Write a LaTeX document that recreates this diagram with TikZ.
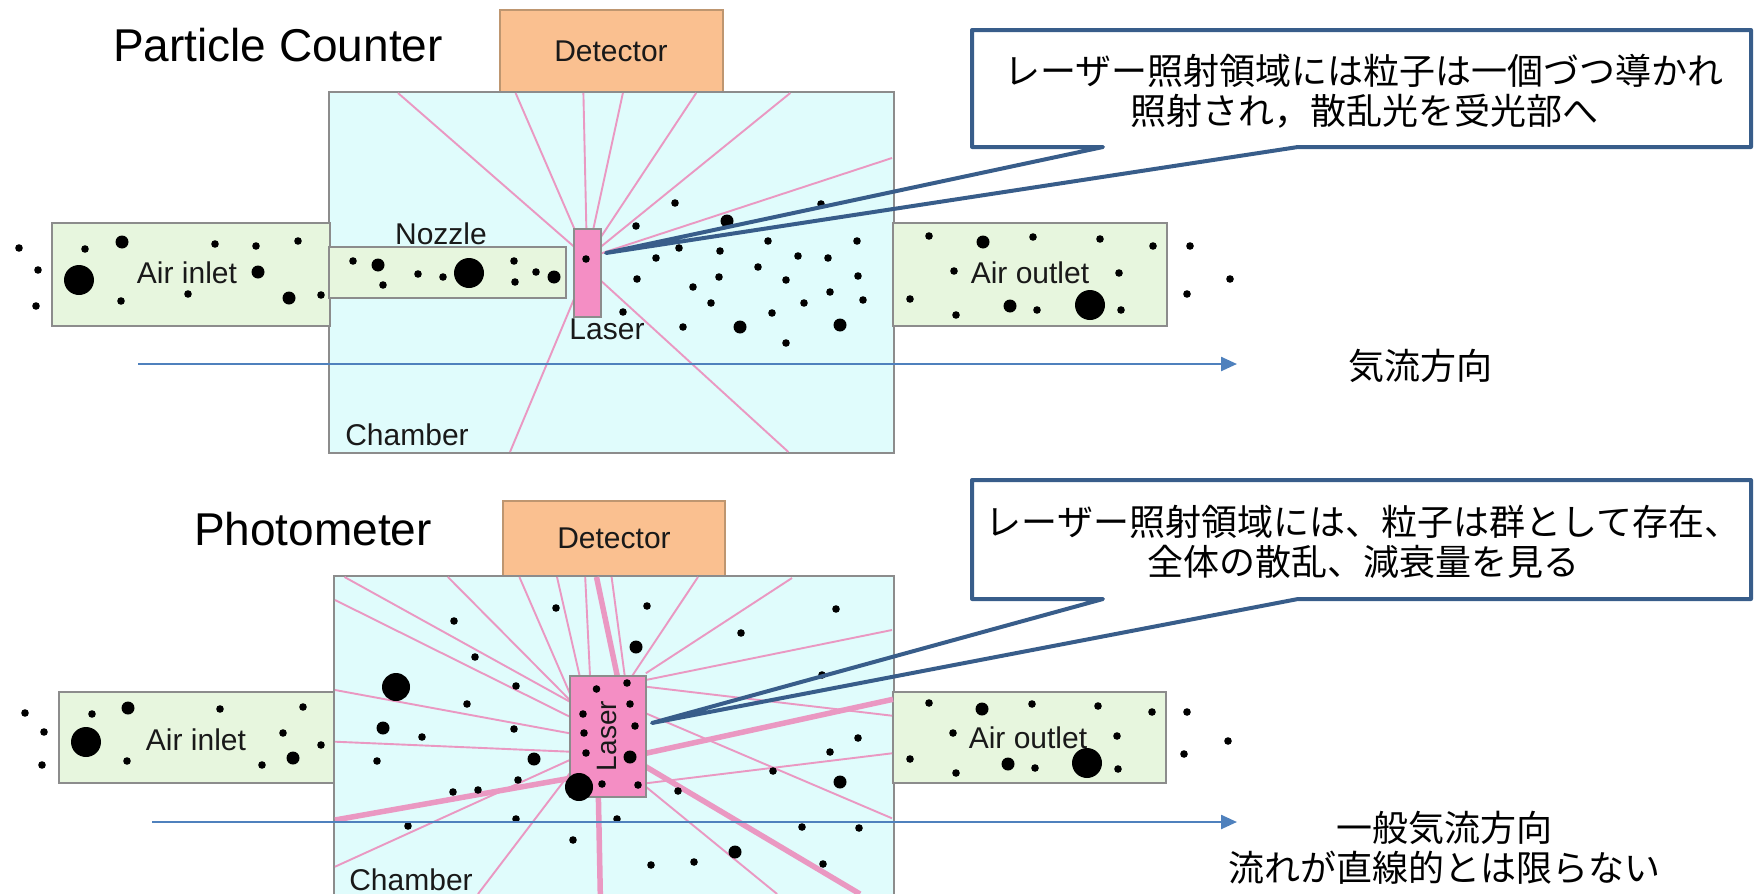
\documentclass[tikz,border=0pt]{standalone}
\usepackage{fontspec}
\setmainfont{Liberation Sans}
\newfontfamily\jpfont{Noto Sans CJK JP}
\usetikzlibrary{arrows.meta}

\definecolor{chamberfill}{RGB}{224,252,252}
\definecolor{ductfill}{RGB}{231,246,222}
\definecolor{detfill}{RGB}{250,192,144}
\definecolor{detline}{RGB}{190,150,112}
\definecolor{laserfill}{RGB}{244,142,196}
\definecolor{raycol}{RGB}{234,152,194}
\definecolor{edgegray}{RGB}{140,140,140}
\definecolor{flowblue}{RGB}{79,129,189}
\definecolor{calloutblue}{RGB}{56,93,138}
\definecolor{labeltext}{RGB}{25,25,25}

\newcommand{\sd}{3.8}
\newcommand{\md}{6.5}

\begin{document}
\begin{tikzpicture}[x=1pt,y=-1pt,
  part/.style={draw=edgegray, line width=1.4pt, inner sep=0pt, outer sep=0pt, anchor=north west},
  chamber/.style={part, fill=chamberfill},
  duct/.style={part, fill=ductfill},
  detector/.style={part, fill=detfill, draw=detline},
  laser/.style={part, fill=laserfill},
  lbl/.style={inner sep=0pt, text=labeltext, font=\fontsize{30}{34}\selectfont},
  heading/.style={inner sep=0pt, font=\fontsize{46}{50}\selectfont},
  jp/.style={inner sep=0pt, align=center, font=\jpfont\fontsize{36}{40}\selectfont},
  ray/.style={draw=raycol, line width=1.9pt},
  thickray/.style={draw=raycol, line width=5.5pt},
  flow/.style={draw=flowblue, line width=2.4pt, -{Triangle[length=16pt,width=14pt]}},
  calloutline/.style={draw=calloutblue, line width=4pt, line join=round},
  frame/.style={inner sep=0pt, outer sep=0pt, anchor=north west}
]
\useasboundingbox (0,0) rectangle (1757,894);
\clip (0,0) rectangle (1757,894);

% ================= Particle counter =================
\node[heading] (titleA) at (278,45) {Particle Counter};
\node[detector, minimum width=223pt, minimum height=82pt] (detA) at (500,10) {};
\node[lbl] (detAtext) at (611,51) {Detector};
\node[chamber, minimum width=565pt, minimum height=361pt] (chA) at (329,92) {};
\node[duct, minimum width=278pt, minimum height=103pt] (inA) at (52,223) {};
\node[duct, minimum width=274pt, minimum height=103pt] (outA) at (893,223) {};
\node[duct, minimum width=237pt, minimum height=51pt] (nozA) at (329,247) {};

% scattered light
\foreach \ax/\ay/\bx/\by in {398/93/587/258, 515.6/93/587/258, 583.4/93/587/258,
    622.9/93/587/258, 696.2/93/587/258, 790.3/93/587/258, 892/158/587/258,
    510/452/587/268, 788.4/452/587/268}
  \draw[ray] (\ax,\ay) -- (\bx,\by);

% particles
\foreach \x/\y/\r in {19/248/\sd, 38/270/\sd, 36/306/\sd, 85/249/\sd, 122/242/\md,
    79/280/15, 121/301/\sd, 215/244/\sd, 256/246/\sd, 298/241/\sd, 258/272/\md,
    188/294/\sd, 289/298/\md, 321/295/\sd,
    353/261/\sd, 378/265/\md, 383/285/\sd, 418/274/\sd, 443/277/\sd, 469/273/15,
    514/261/\sd, 515/282/\sd, 536/272/\sd, 554/277/\md,
    675/203/\sd, 636/226/\sd, 727/221/\md, 821/204/\sd, 679/248/\sd, 656/258/\sd,
    720/251/\sd, 768/241/\sd, 798/256/\sd, 857/241/\sd, 828/258/\sd, 637/279/\sd,
    719/277/\sd, 758/267/\sd, 693/287/\sd, 786/280/\sd, 858/276/\sd, 830/292/\sd,
    711/303/\sd, 804/303/\sd, 863/300/\sd, 772/313/\sd, 623/312/\sd, 683/327/\sd,
    740/327/\md, 840/325/\md, 786/343/\sd,
    929/236/\sd, 983/242/\md, 1033/237/\sd, 1100/239/\sd, 1153/246/\sd, 1190/246/\sd,
    1230/279/\sd, 1187/294/\sd, 954/271/\sd, 1119/273/\sd, 910/299/\sd, 956/315/\sd,
    1010/306/\md, 1037/310/\sd, 1090/305/15, 1121/310/\sd}
  \fill (\x,\y) circle[radius=\r pt];

\node[laser, minimum width=27pt, minimum height=88pt] (lasA) at (574,229) {};
\fill (586,259) circle[radius=\sd pt];

\node[lbl] (nozAtext) at (441,234) {Nozzle};
\node[lbl] (lasAtext) at (607,329) {Laser};
\node[lbl] (chAtext) at (407,435) {Chamber};
\node[lbl] (inAtext) at (187,273) {Air inlet};
\node[lbl] (outAtext) at (1030,273) {Air outlet};

% air flow
\coordinate (flowAs) at (138,364);
\coordinate (flowAe) at (1237,364);
\draw[flow] (flowAs) -- (flowAe);
\node[jp] (flowAtext) at (1420,366) {気流方向};

% callout
\node[frame, minimum width=779pt, minimum height=117pt] (calA) at (972,30) {};
\coordinate (tipA) at (606,253);
\coordinate (baseA1) at (1103,147);
\coordinate (baseA2) at (1298,147);
\draw[calloutline] (baseA1) -- (calA.south west) -- (calA.north west) -- (calA.north east)
  -- (calA.south east) -- (baseA2) -- (tipA) -- cycle;
\node[jp] (calAtext) at (1364,91) {レーザー照射領域には粒子は一個づつ導かれ\\照射され，散乱光を受光部へ};

% ================= Photometer =================
\node[heading] (titleB) at (313,529) {Photometer};
\node[detector, minimum width=222pt, minimum height=75pt] (detB) at (503,501) {};
\node[lbl] (detBtext) at (614,538) {Detector};
\node[chamber, minimum width=560pt, minimum height=344pt] (chB) at (334,576) {};
\node[duct, minimum width=275pt, minimum height=91pt] (inB) at (59,692) {};
\node[duct, minimum width=273pt, minimum height=91pt] (outB) at (893,692) {};

% scattered light
\foreach \ax/\ay/\bx/\by in {344.5/577/569.8/701.7, 335/600/569.8/716.7,
    447.9/577/569.8/700, 519.4/577/569.8/693.3, 557/577/579.6/675.7,
    585.2/577/590/675.7, 611.6/577/624.7/675.7, 698/577/632.3/675.7,
    792/578/645.8/673.3, 892/630/645.8/680, 892/715.7/645.8/686.7,
    892/753.3/645.8/783.3, 892/818.3/645.8/713.3, 777.1/894/645.8/786.7,
    478/894/569.8/773.3, 335/866.7/569.8/760, 335/690/569.8/733.3,
    335/741.7/569.8/751.7}
  \draw[ray] (\ax,\ay) -- (\bx,\by);
\foreach \ax/\ay/\bx/\by in {596.5/577/617.2/675.7, 893/699.3/645.8/753.3,
    860/894/645.8/766.7, 600.3/894/598.4/797.3, 335/820/569.8/778.3}
  \draw[thickray] (\ax,\ay) -- (\bx,\by);

% particles
\foreach \x/\y/\r in {25/713/\sd, 44/732/\sd, 42/765/\sd, 92/714/\sd, 128/708/\md,
    86/742/15, 127/761/\sd, 220/709/\sd, 303/707/\sd, 283/733/\sd, 321/745/\sd,
    293/758/\md, 262/765/\sd,
    556/608/\sd, 647/606/\sd, 836/609/\sd, 454/621/\sd, 741/633/\sd, 636/647/\md,
    475/657/\sd, 396/687/14, 516/686/\sd, 467/704/\sd, 383/728/\md, 422/737/\sd,
    514/729/\sd, 377/761/\sd, 534/759/\md, 518/780/\sd, 453/792/\sd, 478/790/\sd,
    516/819/\sd, 408/826/\sd, 573/840/\sd, 617/819/\sd, 822/675/\sd, 678/791/\sd,
    773/771/\sd, 830/752/\sd, 858/738/\sd, 840/782/\md, 802/827/\sd, 859/828/\sd,
    735/852/\md, 651/865/\sd, 694/862/\sd, 823/864/\sd,
    929/703/\sd, 982/709/\md, 1032/704/\sd, 1098/706/\sd, 1152/712/\sd, 1187/712/\sd,
    1228/741/\sd, 1184/754/\sd, 953/733/\sd, 1117/736/\sd, 910/759/\sd, 956/773/\sd,
    1008/764/\md, 1035/768/\sd, 1087/763/15, 1118/769/\sd}
  \fill (\x,\y) circle[radius=\r pt];

\node[laser, minimum width=76pt, minimum height=121pt] (lasB) at (570,676) {};
\foreach \x/\y/\r in {596.5/689/\sd, 627/683/\sd, 630/704/\sd, 583/714/\sd,
    635/726/\sd, 584/733/\sd, 586/753/\sd, 630/757/\md, 602/784/\sd, 638/785/\sd,
    579/787/14}
  \fill (\x,\y) circle[radius=\r pt];
\node[lbl, rotate=90, font=\fontsize{28}{32}\selectfont] (lasBtext) at (607,736) {Laser};

\node[lbl] (chBtext) at (411,880) {Chamber};
\node[lbl] (inBtext) at (196,740) {Air inlet};
\node[lbl] (outBtext) at (1028,738) {Air outlet};

% air flow
\coordinate (flowBs) at (152,822);
\coordinate (flowBe) at (1237,822);
\draw[flow] (flowBs) -- (flowBe);
\node[jp] (flowBtext) at (1444,848) {一般気流方向\\流れが直線的とは限らない};

% callout
\node[frame, minimum width=779pt, minimum height=119pt] (calB) at (972,480) {};
\coordinate (tipB) at (652,723);
\coordinate (baseB1) at (1103,599);
\coordinate (baseB2) at (1298,599);
\draw[calloutline] (baseB1) -- (calB.south west) -- (calB.north west) -- (calB.north east)
  -- (calB.south east) -- (baseB2) -- (tipB) -- cycle;
\node[jp] (calBtext) at (1363,542) {レーザー照射領域には、粒子は群として存在、\\全体の散乱、減衰量を見る};

\end{tikzpicture}
\end{document}
